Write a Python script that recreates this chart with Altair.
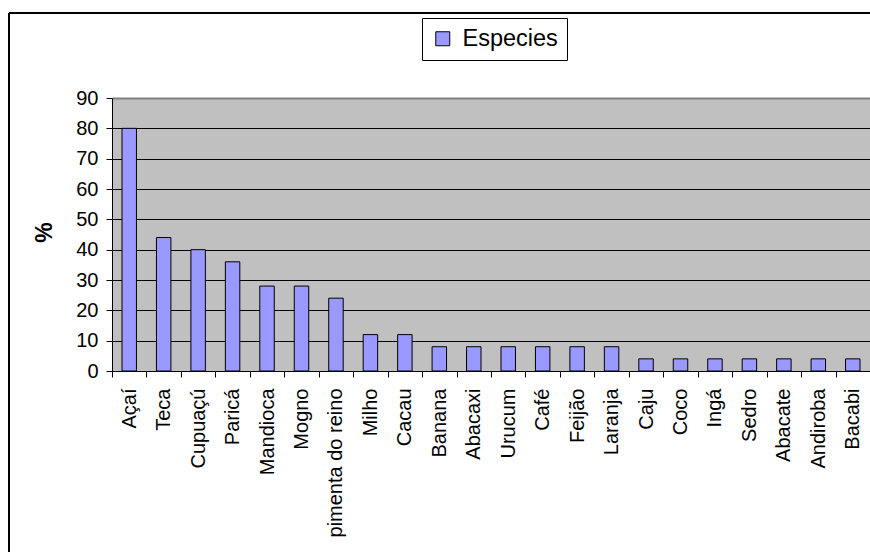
import altair as alt
import pandas as pd

categorias = ["Açaí", "Teca", "Cupuaçú", "Paricá", "Mandioca", "Mogno",
              "pimenta do reino", "Milho", "Cacau", "Banana", "Abacaxi",
              "Urucum", "Café", "Feijão", "Laranja", "Caju", "Coco", "Ingá",
              "Sedro", "Abacate", "Andiroba", "Bacabi"]
valores = [80, 44, 40, 36, 28, 28, 24, 12, 12, 8, 8, 8, 8, 8, 8,
           4, 4, 4, 4, 4, 4, 4]
serie = "Especies"
y_ticks = [0, 10, 20, 30, 40, 50, 60, 70, 80, 90]

df = pd.DataFrame({"cat": categorias, "val": valores, "serie": [serie] * len(categorias)})

FONT = "Liberation Sans"
LEFT, TOP = 112, 98
W, H = 758, 273

bars = alt.Chart(df).mark_bar(
    width=alt.RelativeBandSize(0.42), stroke="black", strokeWidth=1
).encode(
    x=alt.X("cat:N", sort=categorias, title=None,
            scale=alt.Scale(paddingInner=0, paddingOuter=0),
            axis=alt.Axis(labelAngle=270, tickBand="extent", labelFontSize=20,
                          labelPadding=11, tickSize=6, labelOverlap=False,
                          labelColor="black", tickColor="black",
                          domainColor="black", labelFont=FONT)),
    y=alt.Y("val:Q", scale=alt.Scale(domain=[0, 90], nice=False),
            axis=alt.Axis(values=y_ticks, title="%", labelFontSize=20,
                          labelPadding=8, tickSize=6, labelColor="black",
                          tickColor="black", domainColor="black",
                          labelFont=FONT, titleFont=FONT, titleFontSize=23,
                          titleFontWeight="bold", titleColor="black",
                          titleAngle=270, titleX=-68, titleY=134,
                          titleAlign="center", titleBaseline="middle",
                          grid=True,
                          gridColor=alt.condition("datum.value == 90", alt.value("#808080"), alt.value("black")),
                          gridWidth=alt.condition("datum.value == 90", alt.value(2), alt.value(1)))),
    color=alt.Color("serie:N", scale=alt.Scale(range=["#9999FF"]),
                    legend=alt.Legend(title=None, orient="none",
                                      legendX=310, legendY=-80,
                                      fillColor="white", strokeColor="black",
                                      padding=9, symbolType="square",
                                      symbolSize=196, symbolStrokeColor="black",
                                      symbolStrokeWidth=1, symbolOpacity=1,
                                      labelFontSize=23.5, labelFont=FONT,
                                      labelColor="black", labelOffset=8))
)

frame_df = pd.DataFrame({"k": [0]})
left_line = alt.Chart(frame_df).mark_rule(color="black", strokeWidth=2).encode(
    x=alt.value(9 - LEFT), y=alt.value(13 - TOP), y2=alt.value(552 - TOP)
)
top_line = alt.Chart(frame_df).mark_rule(color="black", strokeWidth=2).encode(
    x=alt.value(9 - LEFT), x2=alt.value(870 - LEFT), y=alt.value(13 - TOP)
)

chart = alt.layer(bars, left_line, top_line).properties(
    width=W, height=H,
    autosize=alt.AutoSizeParams(type="none"),
    padding={"left": LEFT, "top": TOP, "right": 870 - LEFT - W, "bottom": 552 - TOP - H},
    background="white",
).configure_view(
    fill="#C0C0C0", strokeWidth=0
)

chart.save("out.html", embed_options={"renderer": "svg", "actions": False})
